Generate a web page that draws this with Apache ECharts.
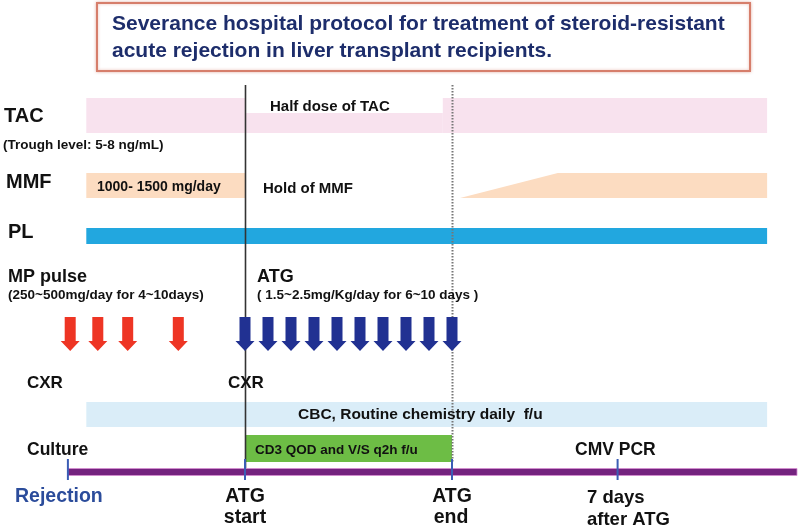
<!DOCTYPE html>
<html>
<head>
<meta charset="utf-8">
<style>
  html, body { margin: 0; padding: 0; background: #ffffff; }
  #chart { width: 800px; height: 530px; }
</style>
<script src="https://cdn.jsdelivr.net/npm/echarts@6/dist/echarts.min.js"></script>
</head>
<body>
<div id="chart"></div>
<script>
// ---------------- DATA (x values in days, ATG start = day 0) ----------------
const bandNames     = ['TAC full dose', 'Half dose of TAC', 'TAC full dose resumed', 'MMF 1000-1500 mg/day', 'PL', 'CBC, Routine chemistry daily f/u', 'CD3 QOD and V/S q2h f/u'];
const bandStartDay  = [-6.9, 0,   8.6,  -6.9, -6.9, -6.9, 0];
const bandEndDay    = [0,    8.6, 22.7, 0,    22.7, 22.7, 9];
const mmfResumeDays = [9.35, 13.6, 22.7];          // ramp start, full dose reached, end
const mpPulseDays   = [-7.6, -6.4, -5.1, -2.9];     // MP pulse doses
const atgDays       = [0, 1, 2, 3, 4, 5, 6, 7, 8, 9]; // ATG doses
const timelineDays  = [-7.7, 24];                   // Rejection time line
const milestoneDays = [-7.7, 0, 9, 16.2];           // Culture / ATG start / ATG end / 7 days after ATG
const milestoneNames = ['Culture', 'ATG start', 'ATG end', '7 days after ATG'];
const atgStartDay = 0;
const atgEndDay = 9;

// ---------------- LAYOUT / STYLE (vertical rows in layout units = px) ----------------
const BAND_ROW = [
  { top: 98,  bottom: 133, fill: '#f8e2ee' },
  { top: 113, bottom: 133, fill: '#f8e2ee' },
  { top: 98,  bottom: 133, fill: '#f8e2ee' },
  { top: 173, bottom: 198, fill: '#fcdcc1' },
  { top: 228, bottom: 244, fill: '#22a7df' },
  { top: 402, bottom: 427, fill: 'rgba(214,235,247,0.9)' },
  { top: 435, bottom: 462, fill: '#6dbd45' }
];
const MMF_ROW = { top: 173, bottom: 198, fill: '#fcdcc1' };
const ARROW_ROW = { top: 317, bottom: 351 };
const LINE_ROW = { top: 85, solidBottom: 470, dottedBottom: 462 };
const TIMELINE_ROW = { y: 472, tickTop: 459, tickBottom: 480 };

const FONT = '"Liberation Sans", Arial, Helvetica, sans-serif';
function f(size) { return 'bold ' + size + 'px ' + FONT; }

const chart = echarts.init(document.getElementById('chart'), null, { renderer: 'canvas' });

function txt(text, x, y, size, opts) {
  opts = opts || {};
  return {
    type: 'text', x: x, y: y, z: 50,
    style: {
      text: text, font: f(size), fill: opts.fill || '#111111',
      align: opts.align || 'left', verticalAlign: 'middle'
    }
  };
}

const option = {
  animation: false,
  backgroundColor: '#ffffff',
  grid: { left: 15, right: 3, top: 0, bottom: 0 },
  xAxis: { type: 'value', min: -10, max: 24, show: false },
  yAxis: { type: 'value', min: 0, max: 530, inverse: true, show: false },
  series: [
    // bands (TAC, MMF, PL, CBC, CD3)
    {
      type: 'custom', z: 1,
      data: bandNames.map((n, i) => [bandStartDay[i], bandEndDay[i], i]),
      renderItem: function (params, api) {
        const i = api.value(2);
        const row = BAND_ROW[i];
        const p1 = api.coord([api.value(0), row.top]);
        const p2 = api.coord([api.value(1), row.bottom]);
        return {
          type: 'rect', z2: i === 5 ? 20 : (i === 6 ? 22 : 1),
          shape: { x: p1[0], y: p1[1], width: p2[0] - p1[0], height: p2[1] - p1[1] },
          style: { fill: row.fill }
        };
      }
    },
    // MMF resumed (ramp)
    {
      type: 'custom', z: 1,
      data: [mmfResumeDays],
      renderItem: function (params, api) {
        const a = api.coord([api.value(0), MMF_ROW.bottom]);
        const b = api.coord([api.value(1), MMF_ROW.top]);
        const c = api.coord([api.value(2), MMF_ROW.top]);
        const d = api.coord([api.value(2), MMF_ROW.bottom]);
        return { type: 'polygon', shape: { points: [a, b, c, d] }, style: { fill: MMF_ROW.fill } };
      }
    },
    // MP pulse arrows (red)
    {
      type: 'custom', z: 3,
      data: mpPulseDays.map(d => [d]),
      renderItem: arrowRender('#ee3524')
    },
    // ATG arrows (blue)
    {
      type: 'custom', z: 3,
      data: atgDays.map(d => [d]),
      renderItem: arrowRender('#213192')
    },
    // ATG start solid line, ATG end dotted line
    {
      type: 'custom', z: 2,
      data: [[atgStartDay, 0], [atgEndDay, 1]],
      renderItem: function (params, api) {
        const dotted = api.value(1) === 1;
        const p1 = api.coord([api.value(0), LINE_ROW.top]);
        const p2 = api.coord([api.value(0), dotted ? LINE_ROW.dottedBottom : LINE_ROW.solidBottom]);
        return {
          type: 'line', z2: dotted ? 30 : 10,
          shape: { x1: Math.round(p1[0]) + 0.5, y1: p1[1], x2: Math.round(p1[0]) + 0.5, y2: p2[1] },
          style: dotted
            ? { stroke: '#777777', lineWidth: 2, lineDash: [1.5, 1.5] }
            : { stroke: '#333333', lineWidth: 1.6 }
        };
      }
    },
    // Rejection timeline
    {
      type: 'custom', z: 4,
      data: [timelineDays],
      renderItem: function (params, api) {
        const p1 = api.coord([api.value(0), TIMELINE_ROW.y]);
        const p2 = api.coord([api.value(1), TIMELINE_ROW.y]);
        return {
          type: 'rect',
          shape: { x: p1[0], y: p1[1] - 3.5, width: p2[0] - p1[0], height: 7 },
          style: { fill: '#74237f', stroke: 'rgba(215,140,210,0.8)', lineWidth: 1 }
        };
      }
    },
    // milestone ticks
    {
      type: 'custom', z: 5,
      data: milestoneDays.map(d => [d]),
      renderItem: function (params, api) {
        const p1 = api.coord([api.value(0), TIMELINE_ROW.tickTop]);
        const p2 = api.coord([api.value(0), TIMELINE_ROW.tickBottom]);
        return {
          type: 'line',
          shape: { x1: p1[0], y1: p1[1], x2: p2[0], y2: p2[1] },
          style: { stroke: '#3b5db5', lineWidth: 2 }
        };
      }
    }
  ],
  graphic: [
    {
      type: 'rect', z: 40,
      shape: { x: 97, y: 3, width: 653, height: 68 },
      style: { fill: '#ffffff', stroke: '#d67e6b', lineWidth: 2, shadowBlur: 3, shadowColor: 'rgba(214,126,107,0.5)' }
    },
    txt('Severance hospital protocol for treatment of steroid-resistant', 112, 24, 21, { fill: '#1d2d6b' }),
    txt('acute rejection in liver transplant recipients.', 112, 51, 21, { fill: '#1d2d6b' }),

    txt('TAC', 4, 116, 20),
    txt('(Trough level: 5-8 ng/mL)', 3, 145, 13.5),
    txt('MMF', 6, 182, 20),
    txt('PL', 8, 232, 20),
    txt('MP pulse', 8, 277, 18),
    txt('(250~500mg/day for 4~10days)', 8, 295, 13.5),
    txt('ATG', 257, 277, 18),
    txt('( 1.5~2.5mg/Kg/day for 6~10 days )', 257, 295, 13.5),
    txt('Half dose of TAC', 270, 107, 15),
    txt('1000- 1500 mg/day', 97, 187, 14),
    txt('Hold of MMF', 263, 189, 15),
    txt('CXR', 27, 383, 17),
    txt('CXR', 228, 383, 17),
    txt('CBC, Routine chemistry daily  f/u', 298, 415, 15.5),
    txt('CD3 QOD and V/S q2h f/u', 255, 450, 13.5),
    txt('Culture', 27, 450, 17.5),
    txt('CMV PCR', 575, 450, 17.5),
    txt('Rejection', 15, 497, 19.5, { fill: '#2b4c9b' }),
    txt('ATG', 245, 497, 19.5, { align: 'center' }),
    txt('start', 245, 518, 19.5, { align: 'center' }),
    txt('ATG', 452, 497, 19.5, { align: 'center' }),
    txt('end', 451, 518, 19.5, { align: 'center' }),
    txt('7 days', 587, 498, 18.5),
    txt('after ATG', 587, 520, 18.5)
  ]
};

function arrowRender(color) {
  return function (params, api) {
    const top = api.coord([api.value(0), ARROW_ROW.top]);
    const bot = api.coord([api.value(0), ARROW_ROW.bottom]);
    const cx = top[0];
    const t = top[1], b = bot[1];
    const headStart = b - 10;
    const sw = 5.5, hw = 9.5;
    return {
      type: 'polygon',
      shape: { points: [[cx - sw, t], [cx + sw, t], [cx + sw, headStart], [cx + hw, headStart], [cx, b], [cx - hw, headStart], [cx - sw, headStart]] },
      style: { fill: color }
    };
  };
}

chart.setOption(option);
</script>
</body>
</html>
